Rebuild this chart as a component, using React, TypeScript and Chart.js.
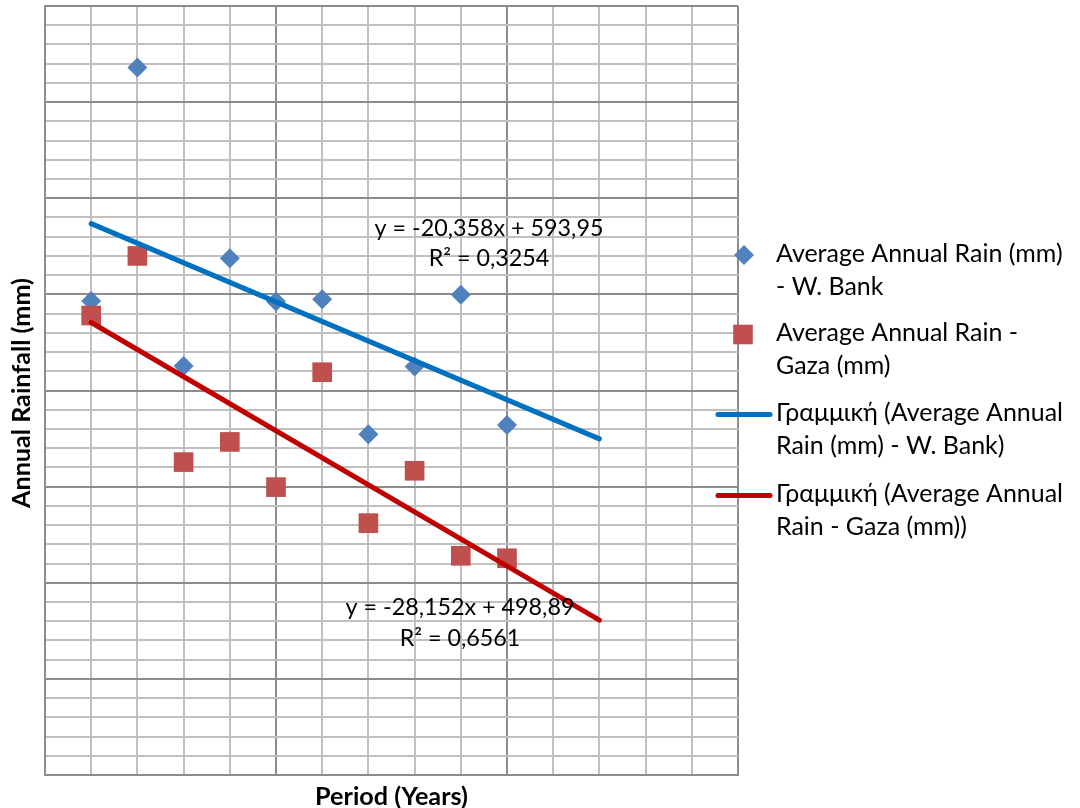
import React, { useEffect, useRef } from "react";
import { Chart, registerables } from "chart.js";

Chart.register(...registerables);

// ---- Data ----
const periods = [1, 2, 3, 4, 5, 6, 7, 8, 9, 10];
const westBankRain = [493, 736, 425.5, 537.5, 492.5, 495, 354.5, 425, 499.5, 364];
const gazaRain = [478, 540, 325.5, 346.5, 299.5, 419, 262, 316.5, 228, 225.5];

// Trendline equations as printed on the chart, drawn from period 1 to 12 (forecast +2)
const trendRange = [1, 12];
const trendSlopes = [-20.358, -28.152];
const trendIntercepts = [593.95, 498.89];
const trendEquations = ["y = -20,358x + 593,95", "y = -28,152x + 498,89"];
const trendR2 = ["R² = 0,3254", "R² = 0,6561"];

const seriesNames = [
  ["Average Annual Rain (mm)", "- W. Bank"],
  ["Average Annual Rain -", "Gaza (mm)"],
  ["Γραμμική (Average Annual", "Rain (mm) - W. Bank)"],
  ["Γραμμική (Average Annual", "Rain - Gaza (mm))"],
];
const xTitle = "Period (Years)";
const yTitle = "Annual Rainfall (mm)";

const yMin = 0;
const yMax = 800;
const xMin = 0;
const xMax = 15;

const BLUE_PT = "#4F81BD";
const RED_PT = "#C0504D";
const BLUE_LINE = "#0070C0";
const RED_LINE = "#C00000";
const FAMILY = "Lato, 'Open Sans', sans-serif";

function fitSize(text: string, weight: string, target: number) {
  const c = document.createElement("canvas").getContext("2d")!;
  c.font = `${weight} 100px ${FAMILY}`;
  return (100 * target) / c.measureText(text).width;
}

export default function App() {
  const ref = useRef<HTMLCanvasElement | null>(null);

  useEffect(() => {
    const canvas = ref.current;
    if (!canvas) return;

    const legendSize = fitSize(seriesNames[0][0], "normal", 286.7);
    const eqSize = fitSize(trendEquations[0], "normal", 229);
    const xTitleSize = fitSize(xTitle, "bold", 153);
    const yTitleSize = fitSize(yTitle, "bold", 230);

    const trendData = (i: number) =>
      trendRange.map((x) => ({ x, y: trendSlopes[i] * x + trendIntercepts[i] }));

    const overlay = {
      id: "overlay",
      afterDraw(chart: any) {
        const ctx = chart.ctx as CanvasRenderingContext2D;
        ctx.save();
        ctx.fillStyle = "#000";
        ctx.textBaseline = "middle";

        // equations
        ctx.font = `normal ${eqSize}px ${FAMILY}`;
        ctx.textAlign = "center";
        ctx.fillText(trendEquations[0], 489, 228);
        ctx.fillText(trendR2[0], 489, 258);
        ctx.fillText(trendEquations[1], 460, 607);
        ctx.fillText(trendR2[1], 460, 638);

        // axis titles
        ctx.font = `bold ${xTitleSize}px ${FAMILY}`;
        ctx.fillText(xTitle, 391.5, 797);
        ctx.save();
        ctx.translate(22, 393);
        ctx.rotate(-Math.PI / 2);
        ctx.font = `bold ${yTitleSize}px ${FAMILY}`;
        ctx.fillText(yTitle, 0, 0);
        ctx.restore();

        // legend
        const textX = 776;
        const rows = [255, 334.5, 414.5, 495.5];
        const lh = 33;
        ctx.fillStyle = BLUE_PT;
        ctx.beginPath();
        ctx.moveTo(744 - 10, rows[0]);
        ctx.lineTo(744, rows[0] - 10);
        ctx.lineTo(744 + 10, rows[0]);
        ctx.lineTo(744, rows[0] + 10);
        ctx.closePath();
        ctx.fill();
        ctx.fillStyle = RED_PT;
        ctx.fillRect(743 - 9.8, rows[1] - 9.8, 19.6, 19.6);
        ctx.lineWidth = 5;
        ctx.lineCap = "round";
        ctx.strokeStyle = BLUE_LINE;
        ctx.beginPath();
        ctx.moveTo(718, rows[2]);
        ctx.lineTo(770, rows[2]);
        ctx.stroke();
        ctx.strokeStyle = RED_LINE;
        ctx.beginPath();
        ctx.moveTo(718, rows[3]);
        ctx.lineTo(770, rows[3]);
        ctx.stroke();

        ctx.fillStyle = "#000";
        ctx.textAlign = "left";
        ctx.font = `normal ${legendSize}px ${FAMILY}`;
        seriesNames.forEach((lines, i) => {
          lines.forEach((t, j) => ctx.fillText(t, textX, rows[i] - 1.5 + j * lh));
        });
        ctx.restore();
      },
    };

    const chart = new Chart(canvas, {
      type: "scatter",
      data: {
        datasets: [
          {
            label: seriesNames[0].join(" "),
            data: periods.map((x, i) => ({ x, y: westBankRain[i] })),
            pointStyle: "rectRot",
            pointRadius: 10,
            backgroundColor: BLUE_PT,
            borderColor: BLUE_PT,
            borderWidth: 0,
            order: 4,
          },
          {
            label: seriesNames[1].join(" "),
            data: periods.map((x, i) => ({ x, y: gazaRain[i] })),
            pointStyle: "rect",
            pointRadius: 13.9,
            backgroundColor: RED_PT,
            borderColor: RED_PT,
            borderWidth: 0,
            order: 3,
          },
          {
            type: "line",
            label: seriesNames[2].join(" "),
            data: trendData(0),
            borderColor: BLUE_LINE,
            borderWidth: 5,
            borderCapStyle: "round",
            pointRadius: 0,
            fill: false,
            order: 2,
          } as any,
          {
            type: "line",
            label: seriesNames[3].join(" "),
            data: trendData(1),
            borderColor: RED_LINE,
            borderWidth: 5,
            borderCapStyle: "round",
            pointRadius: 0,
            fill: false,
            order: 1,
          } as any,
        ],
      },
      options: {
        responsive: false,
        animation: false,
        layout: { autoPadding: false, padding: { left: 45, top: 6, right: 342, bottom: 33 } },
        plugins: {
          legend: { display: false },
          tooltip: { enabled: false },
        },
        scales: {
          x: {
            type: "linear",
            min: xMin,
            max: xMax,
            ticks: { display: false, stepSize: 1, maxTicksLimit: 100 },
            grid: {
              drawTicks: false,
              lineWidth: 2,
              color: (c: any) =>
                c.tick && c.tick.value % 5 === 0 ? "#8c8c8c" : "#c0c0c0",
            },
            border: { display: true, color: "#8c8c8c", width: 2 },
          },
          y: {
            type: "linear",
            min: yMin,
            max: yMax,
            ticks: { display: false, stepSize: 20, maxTicksLimit: 100 },
            grid: {
              drawTicks: false,
              lineWidth: 2,
              color: (c: any) =>
                c.tick && c.tick.value % 100 === 0 ? "#8c8c8c" : "#c0c0c0",
            },
            border: { display: true, color: "#8c8c8c", width: 2 },
          },
        },
      },
      plugins: [overlay],
    });

    return () => chart.destroy();
  }, []);

  return (
    <div style={{ position: "absolute", left: 0, top: 0, width: 1080, height: 808, background: "#fff" }}>
      <canvas ref={ref} width={1080} height={808} style={{ display: "block" }} />
    </div>
  );
}
